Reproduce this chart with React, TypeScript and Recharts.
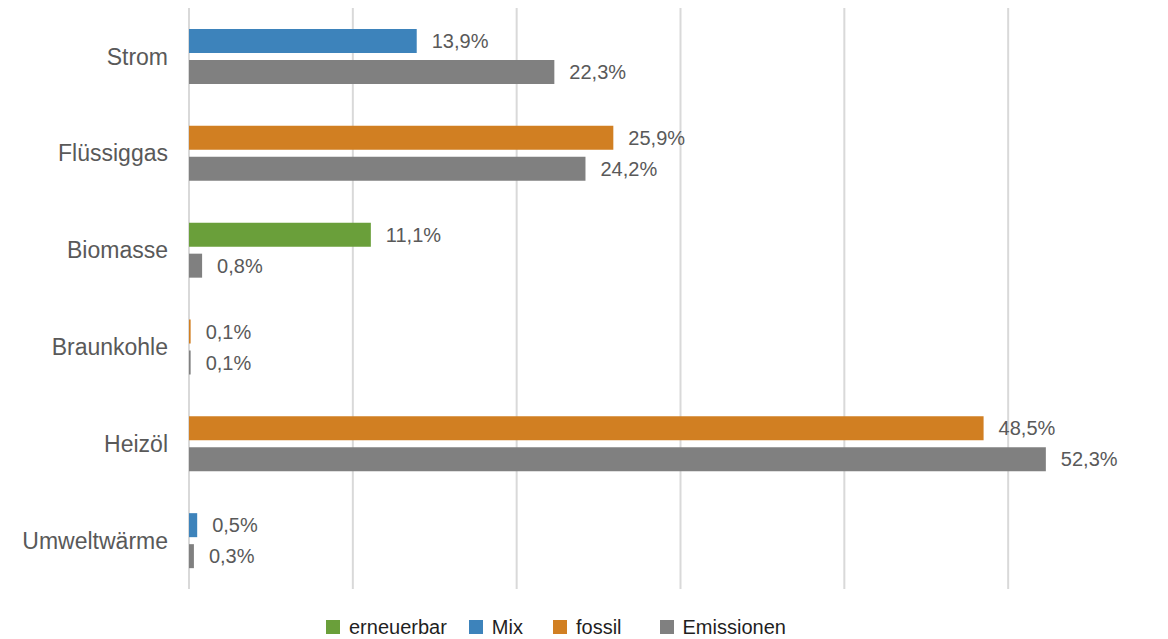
import { BarChart, Bar, XAxis, YAxis, CartesianGrid, Legend, LabelList, Cell } from 'recharts';

const categories = ['Strom', 'Flüssiggas', 'Biomasse', 'Braunkohle', 'Heizöl', 'Umweltwärme'];
const shareValues = [13.9, 25.9, 11.1, 0.1, 48.5, 0.5];
const shareTypes = ['Mix', 'fossil', 'erneuerbar', 'fossil', 'fossil', 'Mix'];
const emissionValues = [22.3, 24.2, 0.8, 0.1, 52.3, 0.3];
const xTicks = [0, 10, 20, 30, 40, 50, 60];

const typeColors: Record<string, string> = {
  erneuerbar: '#6a9f3a',
  Mix: '#3d83bb',
  fossil: '#d17f22',
  Emissionen: '#808080',
};

const legendItems = ['erneuerbar', 'Mix', 'fossil', 'Emissionen'];
const legendGaps = [0, 22, 30, 38];

const data = categories.map((name, i) => ({
  name,
  share: shareValues[i],
  type: shareTypes[i],
  emissions: emissionValues[i],
}));

const FONT = 'Arial, "Liberation Sans", sans-serif';

const formatPct = (v: number) => `${v.toFixed(1).replace('.', ',')}%`;

function LegendContent() {
  return (
    <div
      style={{
        height: 24,
        display: 'flex',
        alignItems: 'center',
        paddingLeft: 326,
        fontFamily: FONT,
        fontSize: 20,
        color: '#1f1f1f',
      }}
    >
      {legendItems.map((item, i) => (
        <div key={item} style={{ display: 'flex', alignItems: 'center', marginLeft: legendGaps[i] }}>
          <span
            style={{
              display: 'inline-block',
              width: 14,
              height: 14,
              background: typeColors[item],
              marginRight: 9,
            }}
          />
          <span>{item}</span>
        </div>
      ))}
    </div>
  );
}

// x axis has no visible labels, but ticks must exist so the grid draws
const EmptyTick = () => <g />;

export default function App() {
  return (
    <div style={{ position: 'absolute', left: 0, top: 0, background: '#fff' }}>
      <BarChart
        layout="vertical"
        width={1168}
        height={639}
        data={data}
        margin={{ top: 8, right: -4, bottom: 0, left: 0 }}
        barSize={24}
        barGap={7}
      >
        <CartesianGrid horizontal={false} stroke="#d9d9d9" strokeWidth={2} />
        <XAxis
          type="number"
          domain={[0, 60]}
          ticks={xTicks}
          tick={EmptyTick}
          axisLine={false}
          tickLine={false}
          height={26}
        />
        <YAxis
          type="category"
          dataKey="name"
          width={189}
          axisLine={false}
          tickLine={false}
          tickSize={0}
          tickMargin={21}
          tick={{ fontSize: 23, fill: '#595959', fontFamily: FONT }}
        />
        <Legend verticalAlign="bottom" content={<LegendContent />} />
        <Bar dataKey="share" isAnimationActive={false}>
          {data.map((d) => (
            <Cell key={d.name} fill={typeColors[d.type]} />
          ))}
          <LabelList
            dataKey="share"
            position="right"
            offset={15}
            formatter={(v: number) => formatPct(v)}
            style={{ fontSize: 20, fill: '#595959', fontFamily: FONT }}
          />
        </Bar>
        <Bar dataKey="emissions" fill={typeColors.Emissionen} isAnimationActive={false}>
          <LabelList
            dataKey="emissions"
            position="right"
            offset={15}
            formatter={(v: number) => formatPct(v)}
            style={{ fontSize: 20, fill: '#595959', fontFamily: FONT }}
          />
        </Bar>
      </BarChart>
    </div>
  );
}
